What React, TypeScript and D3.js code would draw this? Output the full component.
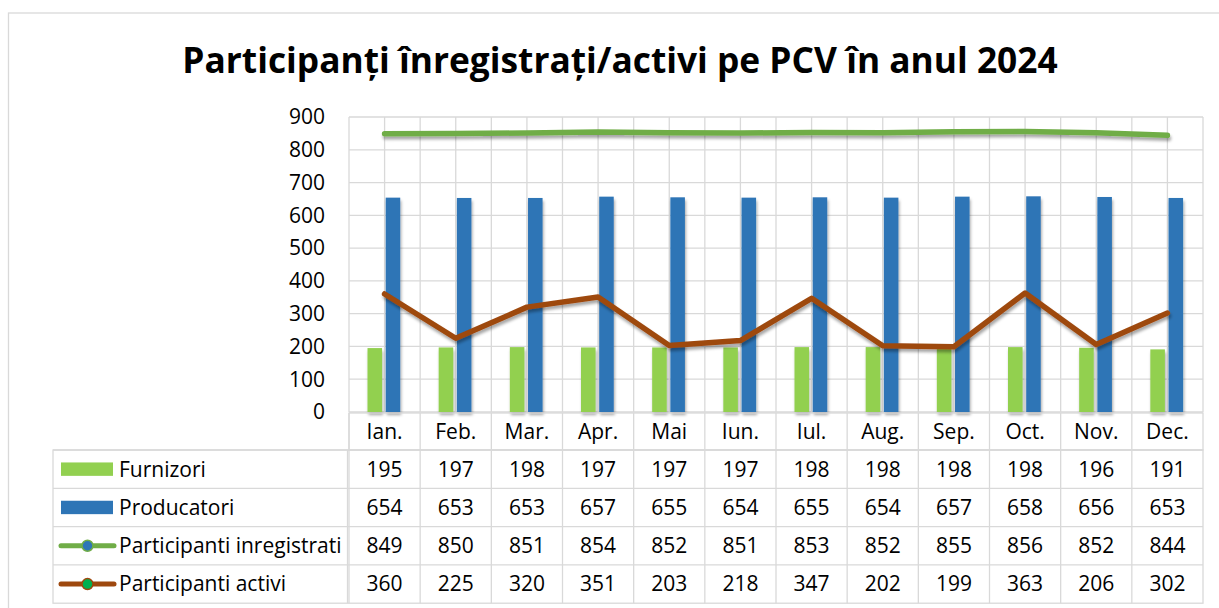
import React from 'react';
import * as d3 from 'd3';

const months = ['Ian.', 'Feb.', 'Mar.', 'Apr.', 'Mai', 'Iun.', 'Iul.', 'Aug.', 'Sep.', 'Oct.', 'Nov.', 'Dec.'];
const furnizori = [195, 197, 198, 197, 197, 197, 198, 198, 198, 198, 196, 191];
const producatori = [654, 653, 653, 657, 655, 654, 655, 654, 657, 658, 656, 653];
const inregistrati = [849, 850, 851, 854, 852, 851, 853, 852, 855, 856, 852, 844];
const activi = [360, 225, 320, 351, 203, 218, 347, 202, 199, 363, 206, 302];
const yTicks = [0, 100, 200, 300, 400, 500, 600, 700, 800, 900];

const W = 1219;
const H = 608;
const FONT = '"Open Sans", "Noto Sans", sans-serif';
const GRID = '#d9d9d9';

const App = () => {
    const plot = { left: 349, right: 1203, top: 117, bottom: 412 };
    const rowH = 38.3;
    const tableLeft = 53;

    const x = d3.scaleBand().domain(months).range([plot.left, plot.right]).padding(0);
    const bw = x.bandwidth();
    const xs = d3.scaleBand()
        .domain(['Furnizori', 'Producatori'])
        .range([bw * 0.26, bw * 0.72])
        .paddingInner(0.2);
    const y = d3.scaleLinear().domain([0, 900]).range([plot.bottom, plot.top]);
    const cx = (m) => x(m) + bw / 2;

    const line = d3.line().x(d => cx(d.m)).y(d => y(d.v));
    const inregPath = line(months.map((m, i) => ({ m, v: inregistrati[i] })));
    const activPath = line(months.map((m, i) => ({ m, v: activi[i] })));

    const rows = [
        { name: 'Furnizori', values: furnizori, type: 'bar', color: '#92d050' },
        { name: 'Producatori', values: producatori, type: 'bar', color: '#2e75b6' },
        { name: 'Participanti inregistrati', values: inregistrati, type: 'line', color: '#70ad47', marker: '#2e75b6' },
        { name: 'Participanti activi', values: activi, type: 'line', color: '#9e480e', marker: '#00b050' },
    ];

    const headerTop = plot.bottom + 1;
    const bodyTop = headerTop + 37;

    // half-category vertical gridlines
    const vGrid = [];
    months.forEach(m => { vGrid.push(x(m)); vGrid.push(x(m) + bw / 2); });
    vGrid.push(plot.right);

    return (
        <svg width={W} height={H} style={{ display: 'block', position: 'absolute', left: 0, top: 0, background: '#fff' }}
            fontFamily={FONT}>
            <defs>
                <filter id="shadow" x="-50%" y="-10%" width="200%" height="130%">
                    <feDropShadow dx="1" dy="3" stdDeviation="1.8" floodColor="#000" floodOpacity="0.35" />
                </filter>
            </defs>
            <rect x={0} y={0} width={W} height={H} fill="#fff" />
            <rect x={8.5} y={13} width={W + 10} height={H + 10} fill="none" stroke={GRID} strokeWidth={1.3} />

            <text x={620} y={73} textAnchor="middle" fontSize={35.3} fontWeight="bold" fill="#000">
                Participanți înregistrați/activi pe PCV în anul 2024
            </text>

            {/* gridlines */}
            <g stroke={GRID} strokeWidth={1.3}>
                {yTicks.map(t => (
                    <line key={t} x1={plot.left} x2={plot.right} y1={y(t)} y2={y(t)} />
                ))}
                {vGrid.map((v, i) => (
                    <line key={i} x1={v} x2={v} y1={plot.top} y2={plot.bottom} />
                ))}
            </g>

            {/* y tick labels */}
            <g fontSize={21} fill="#000" textAnchor="end">
                {yTicks.map(t => (
                    <text key={t} x={325} y={y(t)} dy="0.35em">{t}</text>
                ))}
            </g>

            {/* bars */}
            <g filter="url(#shadow)">
                {months.map((m, i) => (
                    <g key={m} transform={`translate(${x(m)},0)`}>
                        <rect x={xs('Furnizori')} width={xs.bandwidth()} y={y(furnizori[i])}
                            height={y(0) - y(furnizori[i])} fill="#92d050" />
                        <rect x={xs('Producatori')} width={xs.bandwidth()} y={y(producatori[i])}
                            height={y(0) - y(producatori[i])} fill="#2e75b6" />
                    </g>
                ))}
            </g>

            {/* lines */}
            <g filter="url(#shadow)" fill="none" strokeWidth={5.5} strokeLinecap="round" strokeLinejoin="round">
                <path d={inregPath} stroke="#70ad47" />
                <path d={activPath} stroke="#9e480e" />
            </g>

            {/* data table */}
            <g stroke={GRID} strokeWidth={1.3} fill="none">
                <rect x={plot.left} y={headerTop} width={plot.right - plot.left} height={bodyTop - headerTop} />
                <rect x={tableLeft} y={bodyTop} width={plot.right - tableLeft} height={rowH * rows.length} />
                {rows.map((r, i) => (
                    <line key={r.name} x1={tableLeft} x2={plot.right} y1={bodyTop + rowH * i} y2={bodyTop + rowH * i} />
                ))}
                {months.map(m => (
                    <line key={m} x1={x(m)} x2={x(m)} y1={headerTop} y2={bodyTop + rowH * rows.length} />
                ))}
                <line x1={plot.left - 1.5} x2={plot.left - 1.5} y1={bodyTop} y2={bodyTop + rowH * rows.length} />
            </g>

            <g fontSize={21} fill="#000" textAnchor="middle">
                {months.map(m => (
                    <text key={m} x={cx(m)} y={(headerTop + bodyTop) / 2} dy="0.35em">{m}</text>
                ))}
                {rows.map((r, ri) => (
                    <g key={r.name}>
                        {months.map((m, i) => (
                            <text key={m} x={cx(m)} y={bodyTop + rowH * (ri + 0.5)} dy="0.35em">{r.values[i]}</text>
                        ))}
                    </g>
                ))}
            </g>

            {/* legend keys */}
            {rows.map((r, ri) => {
                const my = bodyTop + rowH * (ri + 0.5);
                return (
                    <g key={r.name}>
                        {r.type === 'bar' ? (
                            <rect x={61} y={my - 6.7} width={52} height={13.4} fill={r.color} />
                        ) : (
                            <g>
                                <line x1={61} x2={114} y1={my} y2={my} stroke={r.color} strokeWidth={5} strokeLinecap="round" />
                                <circle cx={87.5} cy={my} r={5.5} fill={r.marker} stroke={r.color} strokeWidth={1.5} />
                            </g>
                        )}
                        <text x={119} y={my} dy="0.35em" fontSize={21} fill="#000">{r.name}</text>
                    </g>
                );
            })}
        </svg>
    );
};

export default App;
